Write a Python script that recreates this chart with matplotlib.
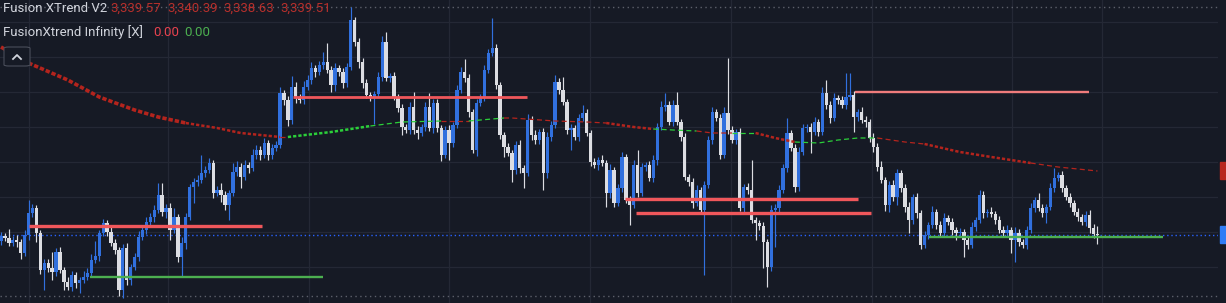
'''
Gold candles with the FusionXTrend overlay, dark TradingView look
'''

import matplotlib
matplotlib.use('Agg')
import matplotlib.pyplot as plt
from matplotlib.patches import Rectangle, FancyBboxPatch
from matplotlib.lines import Line2D
import numpy as np

W, H = 1226, 303
BG = '#161a25'
GRID = '#242835'
UP = '#3170de'
DOWN = '#dcdde2'
MA_RED = '#b4241d'
MA_GREEN = '#2bcf3a'

first_open = 3338.9

# closes left to right
closes = [
    # 0-24
    3339.4, 3339.2, 3338.7, 3339.0, 3338.8, 3337.7, 3339.5, 3341.7, 3342.2, 3339.7,
    3336.0, 3336.7, 3336.2, 3335.8, 3337.8, 3336.0, 3334.8, 3334.3, 3335.5, 3334.7,
    3335.0, 3335.3, 3335.7, 3337.0, 3337.4,
    # 25-46
    3339.7, 3340.7, 3339.8, 3338.7, 3338.0, 3334.0, 3338.2, 3335.0, 3336.3, 3337.3,
    3339.3, 3340.0, 3340.8, 3341.3, 3342.0, 3343.5, 3341.8, 3342.2, 3340.0, 3341.3,
    3337.3, 3338.7,
    # 47-92
    3341.3, 3344.3, 3344.8, 3345.0, 3345.7, 3346.0, 3346.7, 3343.7, 3344.0, 3343.5,
    3342.5, 3343.7, 3345.8, 3346.3, 3345.3, 3346.5, 3346.2, 3347.5, 3348.0, 3347.5,
    3348.7, 3347.5, 3348.2, 3348.5, 3353.7, 3353.0, 3351.0, 3354.3, 3353.2, 3353.0,
    3354.3, 3355.0, 3356.2, 3355.8, 3356.5, 3356.8, 3356.0, 3354.5, 3356.2, 3355.8,
    3354.7, 3356.3, 3361.0, 3358.8, 3356.8, 3354.7,
    # 93-139
    3353.5, 3353.3, 3353.6, 3355.3, 3358.8, 3355.2, 3355.4, 3353.3, 3352.2, 3350.3,
    3350.0, 3352.3, 3350.0, 3349.7, 3350.3, 3352.3, 3350.2, 3352.7, 3350.2, 3347.5,
    3350.0, 3348.7, 3350.5, 3354.0, 3355.8, 3355.2, 3351.8, 3348.0, 3352.7, 3353.3,
    3356.0, 3357.7, 3358.2, 3354.5, 3349.5, 3348.3, 3347.7, 3346.0, 3348.5, 3346.2,
    3345.7, 3351.0, 3349.5, 3349.0, 3349.8, 3345.7, 3349.3,
    # 140-187
    3350.5, 3354.8, 3354.0, 3352.8, 3350.0, 3350.2, 3349.3, 3351.2, 3351.7, 3349.7,
    3346.8, 3346.5, 3347.0, 3346.7, 3343.7, 3346.0, 3342.7, 3344.2, 3347.3, 3343.0,
    3342.5, 3346.5, 3343.7, 3346.3, 3346.5, 3345.2, 3347.0, 3350.3, 3352.3, 3352.5,
    3350.8, 3352.5, 3350.8, 3349.3, 3345.3, 3344.8, 3342.7, 3344.0, 3342.0, 3344.5,
    3349.0, 3351.8, 3351.2, 3347.5, 3351.7, 3350.0, 3349.0, 3349.8,
    # 188-234
    3342.2, 3344.3, 3344.0, 3341.0, 3340.7, 3340.4, 3338.8, 3336.3, 3342.0, 3342.2,
    3344.0, 3346.2, 3349.7, 3348.2, 3344.3, 3347.8, 3350.2, 3350.3, 3349.8, 3350.8,
    3349.8, 3353.7, 3352.5, 3351.2, 3353.2, 3353.0, 3352.5, 3353.3, 3353.5, 3351.3,
    3351.8, 3351.0, 3350.8, 3349.2, 3348.3, 3346.3, 3345.0, 3342.5, 3344.5, 3343.3,
    3345.7, 3344.2, 3342.3, 3341.0, 3343.3, 3341.7, 3338.5,
    # 235-279
    3339.5, 3340.5, 3341.8, 3340.5, 3339.7, 3341.2, 3340.8, 3340.0, 3339.7, 3339.8,
    3339.0, 3338.5, 3340.3, 3341.0, 3343.5, 3341.7, 3341.8, 3341.6, 3341.0, 3340.0,
    3339.7, 3340.0, 3339.0, 3339.7, 3338.8, 3338.5, 3340.0, 3342.2, 3343.0, 3342.2,
    3341.7, 3342.3, 3344.2, 3345.2, 3345.5, 3344.2, 3343.3, 3342.7, 3341.8, 3341.3,
    3340.8, 3341.5, 3340.2, 3339.57, 3339.51,
]

upper_wick = [
    0.4, 0.3, 0.9, 0.4, 0.5, 0.3, 0.5, 1.3, 0.4, 0.3, 0.3, 0.4, 0.4, 1.6, 0.4, 0.5,
    0.3, 0.5, 0.4, 0.3, 0.3, 0.6, 0.5, 0.6, 1.5,
    0.3, 0.4, 0.3, 0.5, 0.4, 0.3, 0.4, 0.5, 0.3, 0.4, 0.6, 0.4, 0.5, 0.4, 0.5, 1.2,
    1.2, 0.4, 0.5, 0.9, 0.3, 0.6,
    0.4, 0.3, 0.4, 0.5, 1.8, 0.4, 0.5, 0.3, 0.4, 0.7, 0.4, 0.3, 0.9, 0.6, 0.4, 0.5,
    0.3, 0.6, 0.5, 0.4, 0.5, 0.3, 0.4, 0.4, 0.6, 0.3, 0.4, 1.1, 0.5, 0.4, 0.6, 0.5,
    0.6, 0.3, 0.4, 1.0, 1.9, 0.4, 0.5, 0.3, 0.4, 0.4, 1.3, 0.3, 0.4, 0.4,
    0.4, 0.3, 0.3, 0.5, 0.6, 1.0, 0.3, 0.4, 0.3, 0.4, 0.3, 0.5, 1.5, 0.4, 0.3, 0.5,
    1.4, 0.4, 0.4, 0.3, 0.4, 0.5, 0.3, 0.5, 0.5, 1.3, 0.4, 0.3, 0.4, 0.3, 0.5, 0.4,
    3.0, 0.4, 0.3, 0.3, 0.4, 0.3, 0.4, 0.5, 0.3, 0.6, 0.4, 0.5, 0.3, 0.4, 0.5,
    0.4, 0.7, 0.4, 1.3, 0.3, 0.4, 0.3, 0.4, 0.8, 0.4, 0.3, 0.4, 0.3, 0.5, 0.3, 0.6,
    0.3, 0.4, 0.5, 0.3, 0.4, 0.5, 1.5, 0.4, 0.3, 0.4, 0.5, 0.4, 0.6, 1.2, 0.4, 0.5,
    1.3, 0.3, 0.4, 0.3, 0.4, 0.5, 0.3, 0.4, 0.4, 0.5, 0.3, 0.4, 0.6, 5.5, 0.4, 0.3,
    0.4, 0.3, 0.4, 3.0, 0.3, 0.3, 0.4, 0.3, 0.5, 0.4, 0.5, 0.4, 1.5, 0.3, 0.4, 0.5,
    0.4, 0.3, 0.4, 0.5, 0.3, 0.6, 1.3, 0.4, 0.5, 0.3, 0.4, 2.4, 2.2, 0.4, 0.3, 0.5,
    0.4, 0.3, 0.5, 0.4, 0.6, 0.3, 0.4, 0.5, 0.4, 0.3, 0.4, 0.5, 0.3, 0.4, 0.3,
    0.4, 0.3, 0.6, 0.3, 0.4, 0.5, 0.3, 0.4, 0.3, 0.4, 0.3, 0.4, 0.5, 0.3, 0.5, 0.4,
    0.3, 0.5, 0.3, 0.4, 0.4, 0.5, 0.3, 0.6, 0.4, 0.3, 0.4, 0.5, 0.3, 0.7, 0.4, 0.3,
    0.5, 1.0, 0.3, 0.4, 0.3, 0.4, 0.3, 0.4, 0.3, 0.4, 0.5, 0.4, 0.82,
]

lower_wick = [
    0.4, 0.3, 0.3, 0.3, 0.5, 0.6, 0.3, 0.5, 0.4, 0.9, 0.4, 2.0, 0.4, 0.8, 0.4, 0.3,
    0.8, 0.3, 0.4, 0.5, 1.0, 0.3, 0.3, 0.3, 0.3,
    0.5, 0.3, 0.4, 0.3, 0.4, 0.6, 0.8, 0.5, 0.5, 0.3, 0.4, 0.3, 0.4, 0.3, 0.5, 0.3,
    0.4, 0.6, 1.0, 0.3, 0.5, 2.0,
    0.6, 0.3, 1.6, 0.4, 0.3, 0.4, 0.3, 0.5, 0.3, 0.7, 0.5, 1.5, 0.3, 0.4, 1.1, 0.3,
    0.5, 0.3, 0.4, 0.5, 0.3, 0.5, 0.4, 0.3, 0.3, 0.5, 0.6, 0.4, 0.5, 0.3, 0.4, 0.3,
    0.4, 0.5, 0.3, 0.4, 0.3, 0.7, 0.6, 0.4, 0.5, 0.4, 0.3, 0.4, 0.6, 0.5,
    0.3, 0.4, 2.7, 0.3, 0.4, 0.3, 0.4, 0.3, 0.4, 0.8, 0.3, 0.4, 0.4, 0.6, 0.3, 0.4,
    0.3, 0.5, 0.4, 0.6, 0.3, 1.7, 0.4, 0.3, 0.3, 0.4, 0.5, 0.3, 0.6, 0.3, 0.4, 0.3,
    0.3, 0.4, 0.4, 1.0, 0.3, 1.2, 0.4, 0.5, 1.5, 0.3, 0.5, 0.4, 0.4, 1.7, 0.5,
    0.4, 0.3, 0.4, 0.3, 0.4, 2.0, 0.3, 0.4, 0.3, 0.3, 0.4, 0.3, 0.5, 0.3, 1.4, 0.5,
    0.4, 0.3, 0.4, 0.3, 2.0, 0.3, 0.4, 0.3, 0.4, 0.3, 0.4, 0.5, 0.3, 0.4, 0.3, 0.4,
    0.3, 0.4, 0.3, 0.4, 0.5, 0.3, 0.4, 6.5, 0.3, 0.4, 0.3, 0.4, 0.3, 0.4, 0.3, 0.4,
    0.3, 0.5, 0.4, 0.3, 1.7, 0.4, 2.6, 2.0, 0.4, 3.7, 0.4, 0.3, 0.4, 0.3, 0.5, 0.4,
    0.3, 0.4, 2.1, 0.3, 0.4, 0.3, 0.4, 0.5, 0.3, 0.4, 0.3, 0.4, 0.3, 1.5, 0.4, 0.3,
    0.5, 0.4, 0.5, 0.4, 0.3, 0.6, 0.7, 0.4, 0.8, 0.4, 0.5, 1.3, 0.4, 0.5, 0.4,
    0.3, 0.4, 0.3, 0.4, 0.3, 0.4, 0.3, 0.5, 0.7, 0.3, 1.7, 0.4, 0.3, 0.4, 0.3, 0.5,
    0.4, 0.3, 0.4, 0.3, 0.4, 0.3, 1.3, 2.2, 0.4, 0.3, 0.4, 0.3, 0.4, 0.3, 0.4, 1.0,
    0.3, 0.4, 0.3, 0.4, 0.3, 0.4, 0.3, 0.4, 0.3, 0.4, 0.5, 0.4, 0.88,
]

# trend average, read at knots (bar index, price)
ma_index = [0, 7, 17, 25, 34, 40, 47, 55, 61, 71, 73, 84, 94, 102, 112, 119, 128,
            130, 141, 149, 154, 161, 166, 171, 177, 181, 186, 192, 197, 202, 208,
            213, 218, 223, 230, 235, 244, 252, 262, 269, 279]
ma_price = [3358.3, 3356.7, 3355.0, 3353.3, 3352.0, 3351.3, 3350.7, 3350.2, 3349.7,
            3349.3, 3349.3, 3349.8, 3350.4, 3350.8, 3350.9, 3350.9, 3351.2, 3351.2,
            3350.9, 3350.8, 3350.7, 3350.3, 3350.1, 3350.0, 3349.9, 3349.7, 3349.7,
            3349.7, 3349.2, 3348.8, 3348.7, 3349.0, 3349.2, 3349.2, 3348.8, 3348.6,
            3347.8, 3347.3, 3346.7, 3346.3, 3345.9]
# (from bar, to bar, trend, weight)
ma_runs = [(0, 47, 'down', 'thick'), (47, 71, 'down', 'mid'), (71, 73, 'down', 'thin'),
           (73, 94, 'up', 'mid'), (94, 112, 'up', 'thin'), (112, 119, 'down', 'thin'),
           (119, 128, 'up', 'thin'), (128, 154, 'down', 'thin'), (154, 166, 'down', 'mid'),
           (166, 177, 'up', 'thin'), (177, 186, 'down', 'thin'), (186, 192, 'up', 'thin'),
           (192, 202, 'down', 'mid'), (202, 223, 'up', 'thin'), (223, 235, 'down', 'thin'),
           (235, 262, 'down', 'mid'), (262, 279, 'down', 'thin')]

# zone levels: price, from bar, to bar
level_price = [3340.4, 3335.3, 3353.3, 3343.1, 3341.7, 3353.8, 3339.3]
level_start = [7.0, 22.6, 74.3, 158.8, 161.6, 217.3, 236.1]
level_end = [66.4, 81.9, 133.8, 218.1, 221.4, 276.8, 295.7]
level_kind = ['res', 'sup', 'res', 'res', 'res', 'res_light', 'sup']

ohlc_text = ['3,339.57', '3,340.39', '3,338.63', '3,339.51']

time_grid = [7, 42.5, 78.4, 114, 149.9, 185.7, 221.6, 257.3, 280.1]
price_grid = np.arange(3336.3, 3361.0, 3.5)
range_high, range_low = 3362.3, 3333.4

assert len(closes) == len(upper_wick) == len(lower_wick), (
    len(closes), len(upper_wick), len(lower_wick))

closes = np.array(closes)
opens = np.r_[first_open, closes[:-1]]
highs = np.maximum(opens, closes) + np.array(upper_wick)
lows = np.minimum(opens, closes) - np.array(lower_wick)
bars = np.arange(len(closes))
rising = closes > opens
colors = np.where(rising, UP, DOWN)

fig = plt.figure(figsize=(W / 100, H / 100), dpi=100)
fig.patch.set_facecolor(BG)
ax = fig.add_axes([0, 0, 1218 / W, 1])
ax.set_facecolor(BG)
for sp in ax.spines.values():
    sp.set_visible(False)

pitch = 3.93
ax.set_xlim(-1 / pitch, 1217 / pitch)
ax.set_ylim(3363 - H / 10, 3363)
ax.set_xticks(time_grid)
ax.set_yticks(price_grid)
ax.tick_params(length=0, labelbottom=False, labelleft=False)
ax.grid(True, color=GRID, lw=0.9)
ax.set_axisbelow(True)

# candles
ax.vlines(bars, lows, highs, colors=colors, lw=0.85, zorder=2)
body = np.maximum(np.abs(closes - opens), 0.1)
ax.bar(bars, body, bottom=np.minimum(opens, closes), width=0.84,
       color=colors, lw=0, zorder=3)

# trend average as square dots
weights = {'thick': (2.6, (1.2, 0.55)), 'mid': (1.8, (1.3, 0.8)),
           'thin': (0.9, (4, 2.6))}
ma_index = np.array(ma_index)
ma_price = np.array(ma_price)
for a, b, trend, weight in ma_runs:
    sel = (ma_index >= a) & (ma_index <= b)
    lw, dash = weights[weight]
    ax.plot(ma_index[sel], ma_price[sel], lw=lw, ls=(0, dash),
            color=MA_RED if trend == 'down' else MA_GREEN,
            solid_capstyle='butt', dash_capstyle='butt', zorder=4)

level_style = {'res': ('#f0575b', 2.4), 'sup': ('#4caf50', 1.7),
               'res_light': ('#f07c7c', 1.7)}
for price, x0, x1, kind in zip(level_price, level_start, level_end, level_kind):
    col, lw = level_style[kind]
    if kind == 'res' and price > 3350:
        lw = 2.0
    ax.hlines(price, x0, x1, colors=col, lw=lw, zorder=5)

ax.axhline(closes[-1], color='#2962ff', lw=1, ls=(0, (1, 2)), zorder=1)
ax.axhline(range_high, color='#5d606b', lw=1, ls=(0, (1, 2.5)), zorder=1)
ax.axhline(range_low, color='#5d606b', lw=1, ls=(0, (1, 2.5)), zorder=1)


def px(x, y):
    return x / W, 1 - y / H


# price scale tags cut at the right edge
ma_last = ma_price[-1]
for price, col in ((ma_last, '#b8261e'), (closes[-1], '#2f7cf6')):
    y = (3363 - price) * 10
    fig.patches.append(Rectangle(px(1220, y + 8.5), 6 / W, 17 / H,
                                 transform=fig.transFigure, color=col))

font = dict(family=['Roboto', 'DejaVu Sans'], fontsize=9.5, va='baseline')
fig.text(*px(3, 12), 'Fusion XTrend V2', color='#d1d4dc', **font)
for x, label in zip([110, 167, 223, 280], ohlc_text):
    fig.text(*px(x, 12), label, color='#b8302c', **font)
fig.text(*px(3, 36), 'FusionXtrend Infinity [X]', color='#d1d4dc', **font)
fig.text(*px(153, 36), '0.00', color='#e8424f', **font)
fig.text(*px(184, 36), '0.00', color='#4caf50', **font)

# collapse button
fig.patches.append(FancyBboxPatch(px(4, 66), 26 / W, 19 / H,
                                  boxstyle='round,pad=0,rounding_size=0.004',
                                  transform=fig.transFigure, facecolor=BG,
                                  edgecolor='#4a4e5a', lw=0.8, zorder=6))
xs, ys = zip(px(13, 59), px(17, 55), px(21, 59))
fig.lines.append(Line2D(xs, ys, transform=fig.transFigure, color='#d1d4dc',
                        lw=1.3, zorder=7))

fig.savefig('out.png', dpi=100, facecolor=BG)
